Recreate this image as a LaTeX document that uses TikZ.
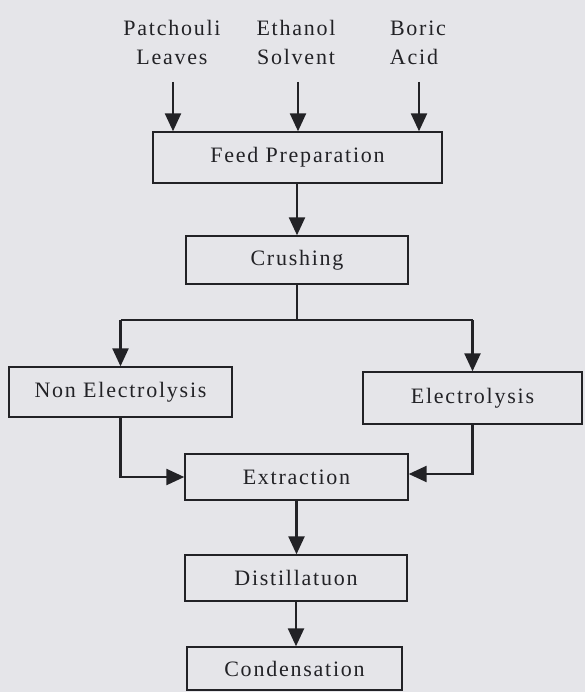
\documentclass[tikz,border=0pt]{standalone}
\usepackage{fontspec}
\setmainfont{Liberation Serif}[LetterSpace=8]
\usetikzlibrary{arrows.meta}
\definecolor{paper}{RGB}{229,229,233}
\definecolor{ink}{RGB}{34,34,38}
\tikzset{
  stepbox/.style={draw=ink, line width=1.4pt, inner sep=0pt, text=ink,
    font=\fontsize{22}{26}\selectfont},
  lab/.style={inner sep=0pt, text=ink, font=\fontsize{22}{26}\selectfont},
  flow/.style={draw=ink, line width=2.4pt, -{Triangle[length=18pt,width=16pt]}},
  thin/.style={draw=ink, line width=1.4pt}
}
\begin{document}
\begin{tikzpicture}[x=1pt,y=-1pt]
\fill[paper] (0,0) rectangle (585,692);
\useasboundingbox (0,0) rectangle (585,692);
% input labels
\node[lab] (l1a) at (172,28) {Patchouli};
\node[lab] (l1b) at (172,57) {Leaves};
\node[lab] (l2a) at (296,28) {Ethanol};
\node[lab] (l2b) at (296,57) {Solvent};
\node[lab] (l3a) at (418,28) {Boric};
\node[lab] (l3b) at (414,57) {Acid};
% boxes
\node[stepbox, minimum width=289pt, minimum height=51pt] (feed) at (297.5,157.5) {Feed Preparation};
\node[stepbox, minimum width=222pt, minimum height=48pt] (crush) at (297,260) {Crushing};
\node[stepbox, minimum width=223pt, minimum height=50pt] (nonel) at (120.5,392) {Non Electrolysis};
\node[stepbox, minimum width=219pt, minimum height=52pt] (elec) at (472.5,398) {Electrolysis};
\node[stepbox, minimum width=223pt, minimum height=46pt] (extr) at (296.5,477) {Extraction};
\node[stepbox, minimum width=222pt, minimum height=46pt] (dist) at (296,578) {Distillatuon};
\node[stepbox, minimum width=215pt, minimum height=43pt] (cond) at (294.5,668.5) {Condensation};
% arrow starts
\coordinate (s1) at (173,82);
\coordinate (s2) at (298,82);
\coordinate (s3) at (419,82);
\coordinate (br) at (297,320);
% connectors
\draw[flow] (s1) -- (s1 |- feed.north);
\draw[flow] (s2) -- (s2 |- feed.north);
\draw[flow] (s3) -- (s3 |- feed.north);
\draw[flow] (feed.south -| crush.north) -- (crush.north);
\draw[thin] (crush.south) -- (br);
\draw[thin] (nonel.north |- br) -- (elec.north |- br);
\draw[flow] (nonel.north |- br) -- (nonel.north);
\draw[flow] (elec.north |- br) -- (elec.north);
\draw[flow] (nonel.south) |- (extr.west);
\draw[flow] (elec.south) |- ([yshift=3pt]extr.east);
\draw[flow] (extr.south) -- (extr.south |- dist.north);
\draw[flow] (dist.south) -- (dist.south |- cond.north);
\end{tikzpicture}
\end{document}
